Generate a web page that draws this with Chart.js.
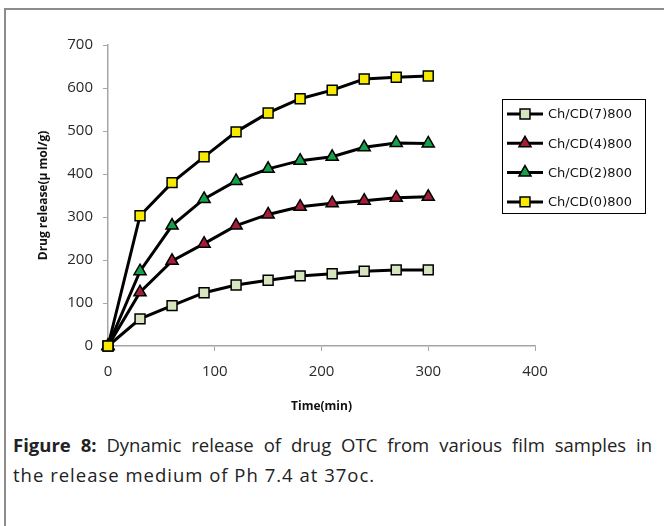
<!DOCTYPE html>
<html>
<head>
<meta charset="utf-8">
<script src="https://cdn.jsdelivr.net/npm/chart.js@4/dist/chart.umd.min.js"></script>
<style>
  body { margin: 0; background: #fff; width: 664px; height: 526px; overflow: hidden; position: relative; }
  #frame { position: absolute; left: 4px; top: 8px; right: 0; bottom: 0; border-top: 2px solid #8c8c8c; border-left: 2px solid #8c8c8c; }
  #wrap { position: absolute; left: 0; top: 0; width: 664px; height: 416px; }
  #caption { position: absolute; left: 13px; top: 430px; width: 639px; font-family: "Open Sans", sans-serif; font-size: 18.5px; letter-spacing: 1px; line-height: 30px; color: #222; }
  #caption .l1 { text-align: justify; text-align-last: justify; letter-spacing: 0; white-space: nowrap; }
</style>
</head>
<body>
<div id="frame"></div>
<div id="wrap"><canvas id="chart"></canvas></div>
<div id="caption">
  <div class="l1"><b>Figure 8:</b> Dynamic release of drug OTC from various film samples in</div>
  <div>the release medium of Ph 7.4 at 37oc.</div>
</div>
<script>
// time points (min)
var times = [0, 30, 60, 90, 120, 150, 180, 210, 240, 270, 300];
// drug release values
var cd7 = [0, 63, 94, 124, 142, 153, 163, 168, 174, 177, 177];
var cd4 = [0, 125, 198, 238, 280, 306, 324, 332, 338, 345, 347];
var cd2 = [0, 174, 280, 342, 384, 412, 431, 440, 462, 472, 471];
var cd0 = [0, 303, 380, 440, 498, 542, 575, 595, 621, 625, 628];
var seriesNames = ["Ch/CD(7)800", "Ch/CD(4)800", "Ch/CD(2)800", "Ch/CD(0)800"];
var xTicks = [0, 100, 200, 300, 400];
var yTicks = [0, 100, 200, 300, 400, 500, 600, 700];

var fills = ["#d7e4bd", "#a21f38", "#16a04a", "#f6ea00"];
var shapes = ["rect", "triangle", "triangle", "rect"];
var allSeries = [cd7, cd4, cd2, cd0];

function toPoints(vals) {
  return vals.map(function(v, i) { return { x: times[i], y: v }; });
}

var datasets = allSeries.map(function(vals, i) {
  return {
    label: seriesNames[i],
    data: toPoints(vals),
    borderColor: "#000",
    borderWidth: 3,
    pointStyle: shapes[i],
    pointRadius: 7,
    pointBackgroundColor: fills[i],
    pointBorderColor: "#000",
    pointBorderWidth: 1.5,
    showLine: true,
    tension: 0,
    clip: false,
    order: 4 - i
  };
});

// legend box drawn by hand, line + marker like the original
var boxLegend = {
  id: "boxLegend",
  afterDraw: function(chart) {
    var ctx = chart.ctx;
    var area = chart.chartArea;
    var left = area.right - 33, top = area.top + 54, w = 143, h = 114;
    ctx.save();
    ctx.fillStyle = "#fff";
    ctx.fillRect(left, top, w, h);
    ctx.strokeStyle = "#000";
    ctx.lineWidth = 1;
    ctx.strokeRect(left + 0.5, top + 0.5, w, h);
    ctx.font = "13px 'DejaVu Sans'";
    ctx.textBaseline = "middle";
    for (var i = 0; i < seriesNames.length; i++) {
      var y = top + 15 + i * 29.3;
      ctx.strokeStyle = "#000";
      ctx.lineWidth = 3;
      ctx.beginPath();
      ctx.moveTo(left + 5, y);
      ctx.lineTo(left + 41, y);
      ctx.stroke();
      ctx.fillStyle = fills[i];
      ctx.lineWidth = 1.5;
      Chart.helpers.drawPoint(ctx, { pointStyle: shapes[i], radius: 7, borderWidth: 1.5, rotation: 0 }, left + 23, y);
      ctx.fillStyle = "#111";
      ctx.fillText(seriesNames[i], left + 46, y + 1);
    }
    ctx.restore();
  }
};

new Chart(document.getElementById("chart"), {
  type: "scatter",
  data: { datasets: datasets },
  options: {
    responsive: true,
    maintainAspectRatio: false,
    animation: false,
    layout: { padding: { left: 32, top: 45, right: 129, bottom: 0 } },
    plugins: { legend: { display: false }, tooltip: { enabled: false } },
    scales: {
      x: {
        type: "linear",
        min: 0, max: 400,
        afterBuildTicks: function(s) { s.ticks = xTicks.map(function(v) { return { value: v }; }); },
        afterFit: function(s) { s.height = 70; },
        grid: { drawOnChartArea: false, tickLength: 5, color: "#a6a6a6" },
        border: { color: "#a6a6a6", width: 1.5 },
        ticks: { padding: 12, color: "#2a2a2a", font: { family: "Open Sans", size: 15 } },
        title: { display: true, text: "Time(min)", color: "#111", font: { family: "Open Sans", size: 12, weight: "bold" }, padding: { top: 4, bottom: 2 } }
      },
      y: {
        type: "linear",
        min: 0, max: 700,
        afterBuildTicks: function(s) { s.ticks = yTicks.map(function(v) { return { value: v }; }); },
        afterFit: function(s) { s.width = 76; },
        grid: { drawOnChartArea: false, tickLength: 5, color: "#a6a6a6" },
        border: { color: "#a6a6a6", width: 1.5 },
        ticks: { padding: 10, color: "#2a2a2a", font: { family: "Open Sans", size: 15 } },
        title: { display: true, text: "Drug release(µ mol/g)", color: "#111", font: { family: "Open Sans", size: 12, weight: "bold" }, padding: 4 }
      }
    }
  },
  plugins: [boxLegend]
});
</script>
</body>
</html>
